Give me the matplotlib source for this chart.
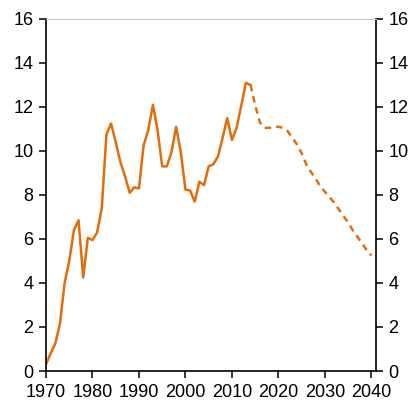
import numpy as np
import matplotlib.pyplot as plt

plt.rcParams['font.family'] = ['Liberation Sans', 'DejaVu Sans']

# historical series
hist_years = list(range(1970, 2015))
hist_vals = [0.3, 0.8, 1.25, 2.15, 4.0, 5.0, 6.4, 6.85, 4.25, 6.05,
             5.95, 6.3, 7.4, 10.75, 11.25, 10.4, 9.5, 8.85, 8.1, 8.35,
             8.3, 10.25, 10.95, 12.1, 10.95, 9.3, 9.3, 9.95, 11.1, 9.95,
             8.25, 8.2, 7.7, 8.6, 8.45, 9.3, 9.4, 9.75, 10.6, 11.5,
             10.5, 11.05, 12.05, 13.1, 13.0]

# projection
proj_years = list(range(2014, 2041))
proj_vals = [13.0, 12.1, 11.3, 11.05, 11.05, 11.1, 11.1, 11.05, 10.9, 10.6,
             10.3, 9.9, 9.4, 9.05, 8.75, 8.4, 8.15, 7.9, 7.65, 7.35,
             7.05, 6.75, 6.4, 6.1, 5.8, 5.5, 5.25]

orange = '#E46C0A'

fig = plt.figure(figsize=(4.16, 4.03), dpi=100)
ax = fig.add_axes([0.1106, 0.0794, 0.7932, 0.8735])

ax.plot(hist_years, hist_vals, color=orange, lw=1.8)
ax.plot(proj_years, proj_vals, color=orange, lw=1.8, ls=(0, (2.6, 2)))

ax.set_xlim(1970, 2041)
ax.set_ylim(0, 16)
ax.set_xticks(range(1970, 2041, 10))
ax.set_yticks(range(0, 17, 2))
ax.tick_params(direction='out', length=5, width=1.1, labelsize=13, pad=4,
               right=True, labelright=True)
for s in ['left', 'right', 'bottom']:
    ax.spines[s].set_linewidth(1.2)
ax.spines['top'].set_color('#C8C8C8')

fig.savefig('out.png', dpi=100)
